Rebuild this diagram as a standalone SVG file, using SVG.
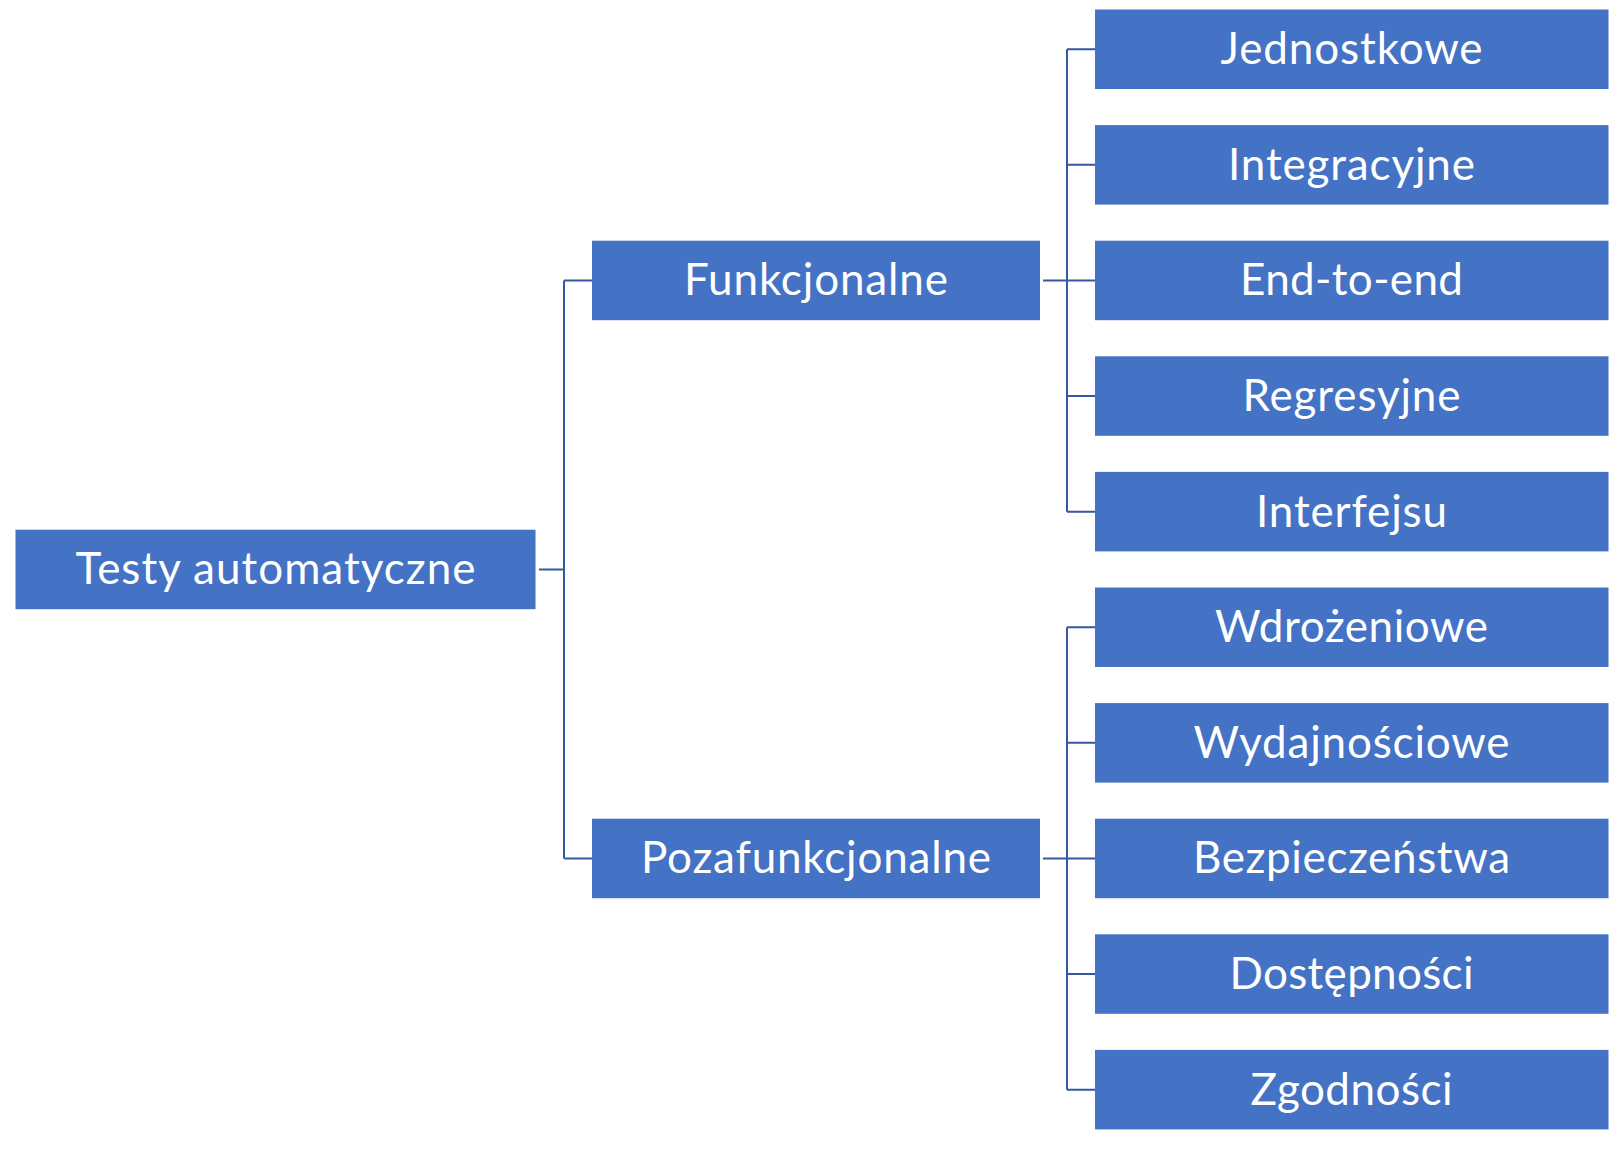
<svg xmlns="http://www.w3.org/2000/svg" width="1623" height="1149" viewBox="0 0 1623 1149">
<style>
.box{fill:#4472C4;}
.lbl{fill:#FFFFFF;font-family:Lato,"Liberation Sans",sans-serif;font-size:44px;text-anchor:middle;}
.con{fill:none;stroke:#3558A0;stroke-width:2;}
</style>
<rect width="1623" height="1149" fill="#FFFFFF"/>
<g id="connectors">
<path class="con" d="M539,569.45 H564 M564,280.45 V858.45 M564,280.45 H592 M564,858.45 H592"/>
<path class="con" d="M1043,280.45 H1095 M1067,49.25 V511.65 M1067,49.25 H1095 M1067,164.85 H1095 M1067,396.05 H1095 M1067,511.65 H1095"/>
<path class="con" d="M1043,858.45 H1095 M1067,627.25 V1089.65 M1067,627.25 H1095 M1067,742.85 H1095 M1067,974.05 H1095 M1067,1089.65 H1095"/>
</g>
<g id="node-root"><rect class="box" x="15.5" y="529.7" width="520" height="79.5"/><text class="lbl" x="275.5" y="584.3" textLength="400">Testy automatyczne</text></g>
<g id="node-funkcjonalne"><rect class="box" x="592" y="240.7" width="448" height="79.5"/><text class="lbl" x="816" y="295.3" textLength="264">Funkcjonalne</text></g>
<g id="node-pozafunkcjonalne"><rect class="box" x="592" y="818.7" width="448" height="79.5"/><text class="lbl" x="816" y="873.3" textLength="350">Pozafunkcjonalne</text></g>
<g id="node-jednostkowe"><rect class="box" x="1095" y="9.5" width="513.5" height="79.5"/><text class="lbl" x="1351.5" y="64.1" textLength="262">Jednostkowe</text></g>
<g id="node-integracyjne"><rect class="box" x="1095" y="125.1" width="513.5" height="79.5"/><text class="lbl" x="1351.5" y="179.7" textLength="247">Integracyjne</text></g>
<g id="node-end-to-end"><rect class="box" x="1095" y="240.7" width="513.5" height="79.5"/><text class="lbl" x="1351.5" y="295.3" textLength="223">End-to-end</text></g>
<g id="node-regresyjne"><rect class="box" x="1095" y="356.3" width="513.5" height="79.5"/><text class="lbl" x="1351.5" y="410.9" textLength="218">Regresyjne</text></g>
<g id="node-interfejsu"><rect class="box" x="1095" y="471.9" width="513.5" height="79.5"/><text class="lbl" x="1351.5" y="526.5" textLength="191">Interfejsu</text></g>
<g id="node-wdrozeniowe"><rect class="box" x="1095" y="587.5" width="513.5" height="79.5"/><text class="lbl" x="1351.5" y="642.1" textLength="273">Wdrożeniowe</text></g>
<g id="node-wydajnosciowe"><rect class="box" x="1095" y="703.1" width="513.5" height="79.5"/><text class="lbl" x="1351.5" y="757.7" textLength="316">Wydajnościowe</text></g>
<g id="node-bezpieczenstwa"><rect class="box" x="1095" y="818.7" width="513.5" height="79.5"/><text class="lbl" x="1351.5" y="873.3" textLength="317">Bezpieczeństwa</text></g>
<g id="node-dostepnosci"><rect class="box" x="1095" y="934.3" width="513.5" height="79.5"/><text class="lbl" x="1351.5" y="988.9" textLength="244">Dostępności</text></g>
<g id="node-zgodnosci"><rect class="box" x="1095" y="1049.9" width="513.5" height="79.5"/><text class="lbl" x="1351.5" y="1104.5" textLength="202">Zgodności</text></g>
</svg>
